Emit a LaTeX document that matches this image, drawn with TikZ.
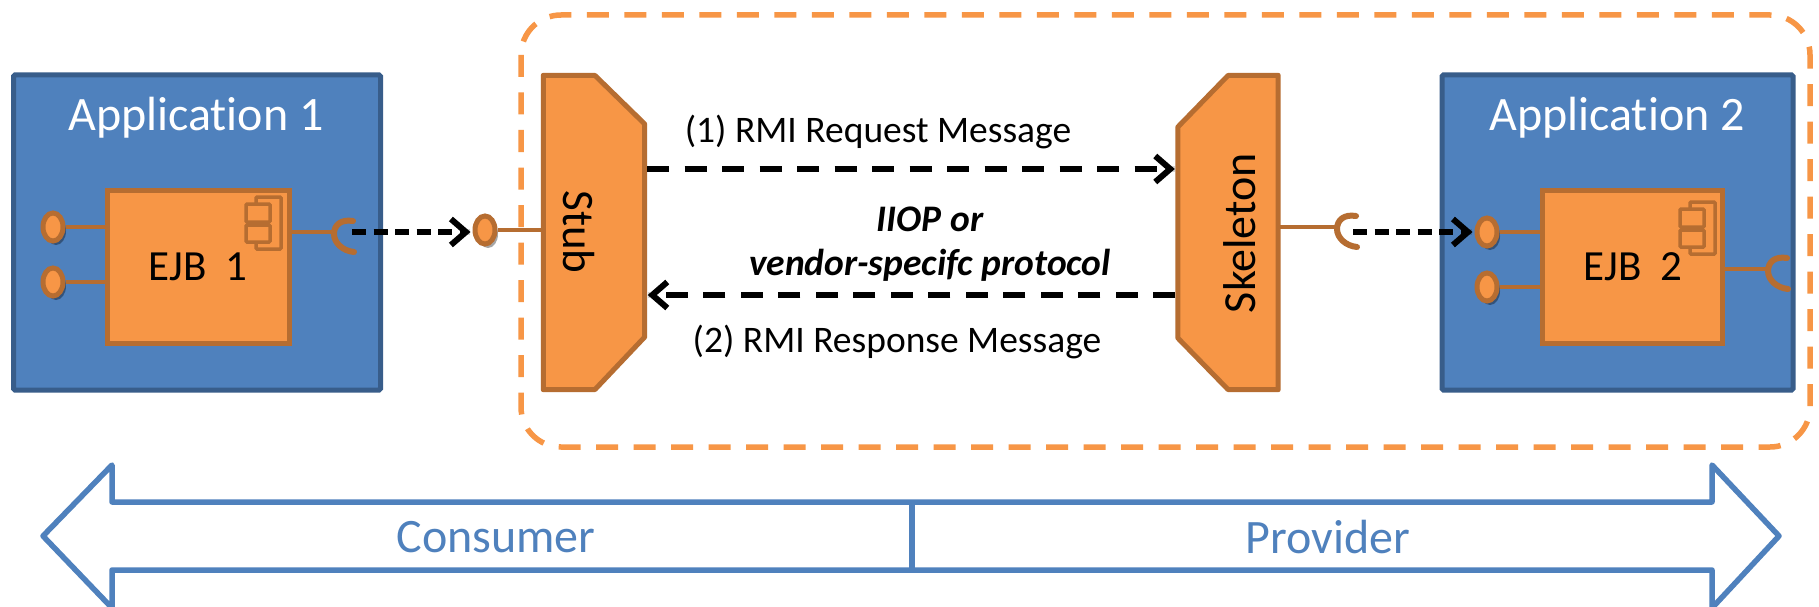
\documentclass[tikz,border=0pt]{standalone}
\usepackage{fontspec}
\setmainfont{Carlito}[Ligatures=NoCommon]
\usetikzlibrary{arrows.meta,shapes.geometric,shadows}
\definecolor{appfill}{HTML}{4F81BD}
\definecolor{appline}{HTML}{385D8A}
\definecolor{orfill}{HTML}{F79646}
\definecolor{orline}{HTML}{B66D31}
\newcommand{\fsz}[1]{\fontsize{#1}{#1}\selectfont}
\newcommand{\sockshape}[1]{%
  \draw[socketline] ([shift={(19,-11)}]#1) .. controls ([shift={(7,-13)}]#1) and ([shift={(0,-7)}]#1) .. ([shift={(0,2)}]#1)
     .. controls ([shift={(0,11)}]#1) and ([shift={(9,19)}]#1) .. ([shift={(20,20)}]#1);}
\tikzset{
  x=1pt,y=-1pt,
  appbox/.style={draw=appline,fill=appfill,line width=5pt,rounded corners=1.5pt,inner sep=0pt,minimum width=350pt,minimum height=315pt},
  ejbbox/.style={draw=orline,fill=orfill,line width=5pt,inner sep=0pt,minimum width=182pt,minimum height=153pt},
  apptext/.style={text=white,font=\fsz{48},inner sep=0pt},
  ejbtext/.style={text=black,font=\fsz{43},inner sep=0pt},
  rottext/.style={text=black,font=\fsz{46},inner sep=0pt},
  msgtext/.style={text=black,font=\fsz{37.5},inner sep=0pt},
  prottext/.style={text=black,font=\fsz{37.5}\bfseries\itshape,inner sep=0pt},
  sidetext/.style={text=appfill,font=\fsz{48},inner sep=0pt},
  lolli/.style={ellipse,draw=orline,fill=orfill,line width=5pt,inner sep=0pt,minimum width=20pt,minimum height=28pt,
     drop shadow={shadow xshift=3pt,shadow yshift=-4pt,opacity=.35,fill=black}},
  wire/.style={draw=orline,line width=4.5pt},
  socketline/.style={draw=orline,line width=6pt,line cap=round},
  icon/.style={draw=orline,line width=3.5pt,rounded corners=1pt},
  shapeline/.style={draw=orline,fill=orfill,line width=5pt,line join=round},
  frame/.style={inner sep=0pt,minimum width=1pt},
  msgarrow/.style={draw=black,line width=5.5pt,dash pattern=on 22pt off 15.5pt,-{Straight Barb[length=15pt,width=26pt,line width=6pt]}},
  shortarrow/.style={draw=black,line width=5.5pt,dash pattern=on 14pt off 7.5pt,-{Straight Barb[length=15pt,width=26pt,line width=6pt]}},
  arrowshadow/.style={draw=black,opacity=.16,line width=6pt,shift={(2,6)}},
  msgshadow/.style={arrowshadow,dash pattern=on 22pt off 15.5pt},
  shortshadow/.style={arrowshadow,dash pattern=on 14pt off 7.5pt},
  bigarrow/.style={draw=appfill,line width=5.5pt,line join=round},
  dashframe/.style={draw=orfill,line width=5.5pt,rounded corners=40pt,dash pattern=on 22pt off 15.5pt},
}
\begin{document}
\begin{tikzpicture}
\clip (0,0) rectangle (1819,607);
\fill[white] (0,0) rectangle (1819,607);
% dashed frame
\draw[dashframe] (521,15) rectangle (1810,447);
% application boxes
\node[appbox,minimum width=367pt] (app1) at (197,232.5) {};
\node[appbox,minimum width=351pt] (app2) at (1617.5,232.5) {};
\node[apptext] (app1t) at (196,118) {Application 1};
\node[apptext] (app2t) at (1617,118) {Application 2};
% EJB boxes
\node[ejbbox,minimum width=182pt] (ejb1) at (198.5,266.5) {};
\node[ejbbox,minimum width=180pt] (ejb2) at (1632.5,266.5) {};
\node[ejbtext] (ejb1t) at (198,267) {EJB\ \ 1};
\node[ejbtext] (ejb2t) at (1633,267) {EJB\ \ 2};
% component icons
\draw[icon] (256,197) rectangle (281,249);
\draw[icon,fill=orfill] (246,204) rectangle (270,222);
\draw[icon,fill=orfill] (246,225) rectangle (270,242);
\draw[icon] (1690,202) rectangle (1715,254);
\draw[icon,fill=orfill] (1680,209) rectangle (1704,227);
\draw[icon,fill=orfill] (1680,230) rectangle (1704,247);
% stub and skeleton
\node[frame,minimum width=101pt,minimum height=314pt] (stub) at (594,232.5) {};
\node[frame,minimum width=100pt,minimum height=314pt] (skel) at (1228,232.5) {};
\draw[shapeline] (stub.north west) -- (595,75.5) -- (stub.east |- 0,124) -- (stub.east |- 0,337) -- (595,389.5) -- (stub.south west) -- cycle;
\draw[shapeline] (skel.north east) -- (1228,75.5) -- (skel.west |- 0,127) -- (skel.west |- 0,338) -- (1228,389.5) -- (skel.south east) -- cycle;
\node[rottext,rotate=-90,font=\fsz{45}] (stubt) at (579,232) {Stub};
\node[rottext,rotate=90] (skelt) at (1240,233) {Skeleton};
% lollipops
\node[lolli] (l1a) at (53,227) {};
\node[lolli] (l1b) at (53,282) {};
\node[lolli] (l2a) at (1487,232) {};
\node[lolli] (l2b) at (1487,287) {};
\node[lolli] (lstub) at (485,230) {};
\draw[wire] (l1a) -- (ejb1.west |- l1a);
\draw[wire] (l1b) -- (ejb1.west |- l1b);
\draw[wire] (l2a) -- (ejb2.west |- l2a);
\draw[wire] (l2b) -- (ejb2.west |- l2b);
\draw[wire] (lstub) -- (stub.west |- lstub);
% sockets
\coordinate (s1) at (334,232);
\coordinate (s2) at (1337,227);
\coordinate (s3) at (1768,269);
\draw[wire] (ejb1.east |- s1) -- (s1);
\draw[wire] (skel.east |- s2) -- (s2);
\draw[wire] (ejb2.east |- s3) -- (s3);
\sockshape{s1}
\sockshape{s2}
\sockshape{s3}
% short arrows
\coordinate (a1s) at (352,232);
\coordinate (a2s) at (1353,232);
\draw[shortshadow] (a1s) -- ([xshift=-3pt]lstub.west |- a1s);
\draw[shortshadow] (a2s) -- ([xshift=-3pt]l2a.west);
\draw[shortarrow] (a1s) -- ([xshift=-2pt]lstub.west |- a1s);
\draw[shortarrow] (a2s) -- ([xshift=-2pt]l2a.west);
% message arrows
\coordinate (m1) at ([xshift=2.5pt]stub.east |- 0,169);
\coordinate (m2) at ([xshift=-3pt]skel.west |- 0,169);
\coordinate (m3) at ([xshift=-2.5pt]skel.west |- 0,295);
\coordinate (m4) at ([xshift=3pt]stub.east |- 0,295);
\draw[msgshadow] (m1) -- (m2);
\draw[msgshadow] (m3) -- (m4);
\draw[msgarrow] (m1) -- (m2);
\draw[msgarrow] (m3) -- (m4);
\node[msgtext] (req) at (878,132) {(1) RMI Request Message};
\node[msgtext] (res) at (897,342) {(2) RMI Response Message};
\node[prottext] (p1) at (930,219) {IIOP or};
\node[prottext] (p2) at (930,265) {vendor-specifc protocol};
% bottom arrow
\draw[bigarrow] (112,502) -- (112,465) -- (43,536) -- (112,608) -- (112,570) -- (1712,570) -- (1712,608) -- (1779,536) -- (1712,465) -- (1712,502) -- cycle;
\coordinate (d1) at (912,502);
\coordinate (d2) at (912,570);
\draw[bigarrow] (d1) -- (d2);
\node[sidetext] (cons) at (496,537) {Consumer};
\node[sidetext] (prov) at (1328,537) {Provider};
\end{tikzpicture}
\end{document}
